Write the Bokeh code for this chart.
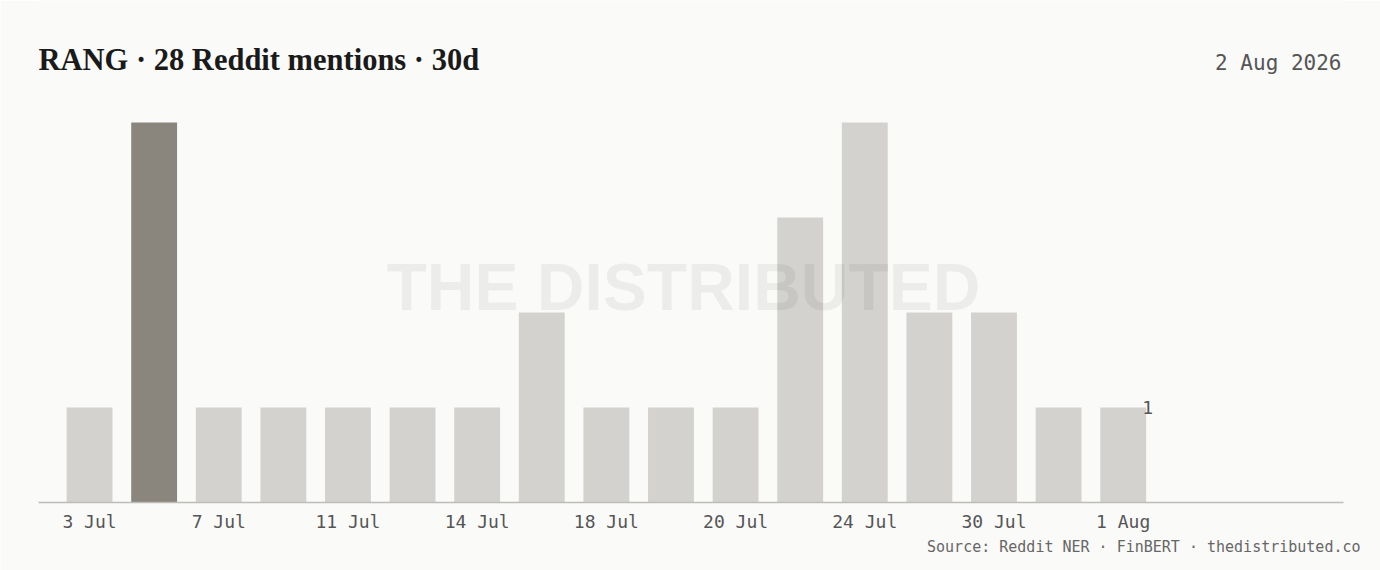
from bokeh.plotting import figure
from bokeh.models import Range1d, FixedTicker, Label, ColumnDataSource, Title
from bokeh.embed import file_html
from bokeh.resources import INLINE

# ---- data ----
dates = ["3 Jul", "5 Jul", "7 Jul", "9 Jul", "11 Jul", "12 Jul", "14 Jul", "16 Jul",
         "18 Jul", "19 Jul", "20 Jul", "22 Jul", "24 Jul", "27 Jul", "30 Jul", "31 Jul", "1 Aug"]
mentions = [1, 4, 1, 1, 1, 1, 1, 2, 1, 1, 1, 3, 4, 2, 2, 1, 1]
highlight_index = 1
title_text = "RANG \u00b7 28 Reddit mentions \u00b7 30d"
date_text = "2 Aug 2026"
source_text = "Source: Reddit NER \u00b7 FinBERT \u00b7 thedistributed.co"
watermark_text = "THE DISTRIBUTED"

BG = "#fafaf9"
BAR = "#d3d2cf"
BAR_HI = "#8a857d"
MONO = "DejaVu Sans Mono"

W, H = 1380, 570
FRAME_L, FRAME_R, FRAME_B = 38, 1343, 502
BAR_TOP_PX = 122  # pixel row of the tallest bar

xs = list(range(len(mentions)))
colors = [BAR_HI if i == highlight_index else BAR for i in xs]
src = ColumnDataSource(dict(x=xs, top=mentions, color=colors))

y_end = max(mentions) * FRAME_B / (FRAME_B - BAR_TOP_PX)

p = figure(width=W, height=H, output_backend="svg", toolbar_location=None,
           x_range=Range1d(-0.79, 19.41), y_range=Range1d(0, y_end),
           min_border_left=FRAME_L, min_border_right=W - FRAME_R,
           min_border_top=0, min_border_bottom=H - FRAME_B)
p.background_fill_color = BG
p.border_fill_color = BG
p.outline_line_color = None
p.xgrid.visible = False
p.ygrid.visible = False
p.yaxis.visible = False

p.vbar(x="x", top="top", bottom=0, width=0.71, color="color", line_color=None, source=src)

ax = p.xaxis[0]
ax.ticker = FixedTicker(ticks=xs[::2])
ax.major_label_overrides = {i: dates[i] for i in xs[::2]}
ax.major_tick_line_color = None
ax.minor_tick_line_color = None
ax.axis_line_color = "#bdbcb9"
ax.axis_line_width = 1.5
ax.major_label_text_font = MONO
ax.major_label_text_font_size = "18px"
ax.major_label_text_color = "#555555"
ax.major_label_standoff = 2

# source line below the axis
p.add_layout(Title(text=source_text, align="right", text_font=MONO, text_font_size="15px",
                   text_color="#666666", text_font_style="normal", offset=-17, standoff=2), "below")

# last value label
last = len(mentions) - 1
p.add_layout(Label(x=last + 0.355, y=mentions[last], x_offset=-4, text=str(mentions[last]),
                   text_font=MONO, text_font_size="18px", text_color="#555555",
                   text_align="left", text_baseline="middle"))

# watermark
p.add_layout(Label(x=645, y=216, x_units="screen", y_units="screen", text=watermark_text,
                   text_font="Liberation Sans", text_font_style="bold", text_font_size="66px",
                   text_color="#000000", text_alpha=0.055,
                   text_align="center", text_baseline="middle"))

# title
p.add_layout(Label(x=0, y=443, x_units="screen", y_units="screen", text=title_text,
                   text_font="Liberation Serif", text_font_style="bold", text_font_size="30.5px",
                   text_color="#1a1a1a", text_align="left", text_baseline="alphabetic"))
# date
p.add_layout(Label(x=1303, y=440, x_units="screen", y_units="screen", text=date_text,
                   text_font=MONO, text_font_size="21px", text_color="#555555",
                   text_align="right", text_baseline="alphabetic"))

open("out.html", "w").write(file_html(p, INLINE))
